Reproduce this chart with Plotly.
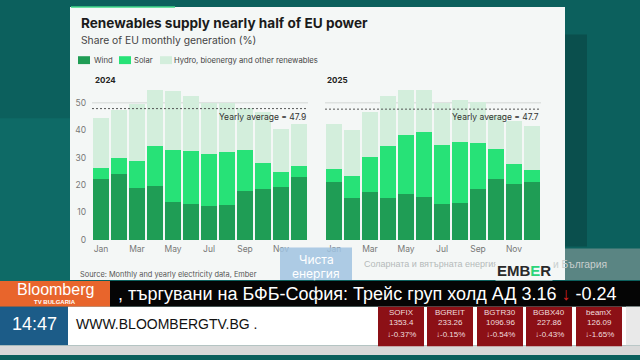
import plotly.graph_objects as go

months = ["Jan", "Feb", "Mar", "Apr", "May", "Jun", "Jul", "Aug", "Sep", "Oct", "Nov", "Dec"]
tick_months = ["Jan", "Mar", "May", "Jul", "Sep", "Nov"]

wind_2024 = [22.4, 24.0, 18.9, 19.8, 14.0, 13.2, 12.2, 12.8, 18.0, 18.5, 19.2, 22.8]
solar_2024 = [4.0, 6.0, 9.9, 14.5, 18.7, 19.2, 19.3, 19.2, 14.7, 9.4, 5.6, 4.3]
other_2024 = [18.2, 17.5, 20.9, 20.5, 21.7, 20.1, 18.5, 17.8, 15.3, 18.9, 15.6, 15.1]

wind_2025 = [21.2, 15.2, 17.3, 15.3, 16.7, 15.7, 13.1, 13.5, 18.6, 22.4, 20.4, 21.1]
solar_2025 = [4.8, 8.1, 13.0, 18.8, 21.5, 23.5, 21.4, 22.1, 16.9, 10.8, 7.2, 4.4]
other_2025 = [16.2, 16.9, 16.5, 18.3, 16.6, 15.6, 15.5, 15.3, 14.9, 12.3, 15.6, 16.1]

avg_2024 = 47.9
avg_2025 = 47.7
grid_value = 50

y_ticks = [0, 10, 20, 30, 40, 50]

tiles = [("SOFIX", "1353.4", "-0.37%"), ("BGREIT", "233.26", "-0.15%"),
         ("BGTR30", "1096.96", "-0.54%"), ("BGBX40", "227.86", "-0.43%"),
         ("beamX", "126.09", "-1.65%")]

W, H = 640, 360
def X(px): return px / W
def Y(py): return 1 - py / H

C_WIND = "#1f9d55"
C_SOLAR = "#27e277"
C_OTHER = "#d3eedc"
FONT = "Inter"
CARD = "#f4f7f6"

fig = go.Figure()
for (w, s, o, xa, ya) in [(wind_2024, solar_2024, other_2024, "x", "y"),
                          (wind_2025, solar_2025, other_2025, "x2", "y2")]:
    for vals, col, name in [(w, C_WIND, "Wind"), (s, C_SOLAR, "Solar"),
                            (o, C_OTHER, "Hydro, bioenergy and other renewables")]:
        fig.add_trace(go.Bar(x=months, y=vals, name=name, marker_color=col,
                             marker_line_width=0, xaxis=xa, yaxis=ya,
                             showlegend=False, hoverinfo="skip"))

shapes = []
ann = []

def rect(x0, y0, x1, y1, color, layer="below"):
    shapes.append(dict(type="rect", xref="paper", yref="paper", x0=X(x0), x1=X(x1),
                       y0=Y(y1), y1=Y(y0), fillcolor=color, line_width=0, layer=layer))

def text(x, y, t, size, color, xanchor="left", family=FONT, bold=False, bg=None):
    if bold:
        t = "<b>" + t + "</b>"
    d = dict(xref="paper", yref="paper", x=X(x), y=Y(y), text=t, showarrow=False,
             xanchor=xanchor, yanchor="middle", font=dict(size=size, color=color, family=family))
    if bg:
        d["bgcolor"] = bg
    ann.append(d)

# background pieces
rect(0, 0, 640, 360, "#0c605d")
rect(0, 120, 70, 285, "#0e6a66")
rect(565, 35, 587, 250, "#0a4f4d")
rect(70, 7, 565, 284, CARD)
shapes.append(dict(type="line", xref="paper", yref="paper", x0=X(71), x1=X(175), y0=Y(7), y1=Y(7),
                   line=dict(color="#3fd98a", width=1.5), layer="below"))
rect(565, 252, 640, 284, "#5a8583")

# chart texts
text(79, 23, "Renewables supply nearly half of EU power", 13.6, "#1b1b1b", bold=True)
text(79, 41, "Share of EU monthly generation (%)", 10.3, "#444444")
for sx, tx, col, lab in [(78, 92, C_WIND, "Wind"), (119, 132, C_SOLAR, "Solar"),
                         (160, 172, C_OTHER, "Hydro, bioenergy and other renewables")]:
    rect(sx, 57, sx + 12, 65, col)
    text(tx, 61, lab, 7.7, "#444444")
text(93, 81, "2024", 8, "#222222", bold=True)
text(325, 81, "2025", 8, "#222222", bold=True)
text(78, 278, "Source: Monthly and yearly electricity data, Ember", 7.4, "#555555")

# 50 gridline and averages
for xa, ya, av in [("x", "y", avg_2024), ("x2", "y2", avg_2025)]:
    shapes.append(dict(type="line", xref=xa, yref=ya, x0=-0.5, x1=11.5, y0=grid_value, y1=grid_value,
                       line=dict(color="#d3d7d5", width=1), layer="below"))
    shapes.append(dict(type="line", xref=xa, yref=ya, x0=-0.5, x1=11.5, y0=av, y1=av,
                       line=dict(color="#555555", width=1, dash="2px,2px"), layer="above"))
    ann.append(dict(xref=xa, yref=ya, x=11.5, y=av, text="Yearly average = %.1f" % av,
                    showarrow=False, xanchor="right", yanchor="top", yshift=-1,
                    font=dict(size=8.5, color="#333333", family=FONT)))

# TV overlays
rect(280, 251, 352, 284, "rgba(160,195,225,0.85)", layer="above")
text(316, 263, "Чиста", 12, "#ffffff", xanchor="center")
text(316, 277, "енергия", 12, "#ffffff", xanchor="center")
text(362, 268, "Соларната и вятърната енергия", 9, "#b4baba", family="Liberation Sans")
text(551, 268, "и България", 10.3, "#c9cfce", family="Liberation Sans")
text(495, 274, "EMB<span style='color:#2bd47a'>E</span>R", 15, "#2a2a2a", family="Liberation Sans", bold=True, bg=CARD)

rect(0, 285, 110, 311, "#e8652c", layer="above")
rect(110, 285, 640, 311, "#050505", layer="above")
rect(0, 311, 68, 350, "#1c5c88", layer="above")
rect(68, 311, 640, 350, "#ffffff", layer="above")
rect(626, 311, 640, 350, "#e9e9e9", layer="above")
rect(0, 350, 640, 360, "#d9d9d9", layer="above")
text(55, 294, "Bloomberg", 16, "#ffffff", xanchor="center", family="Liberation Sans")
text(55, 306.5, "TV BULGARIA", 6, "#ffffff", xanchor="center", family="Liberation Sans", bold=True)
text(116, 298, ", търгувани на БФБ-София: Трейс груп холд АД 3.16 <span style='color:#d62020'><b>↓</b></span> -0.24",
     18, "#ffffff", family="Liberation Sans")
text(34, 329, "14:47", 18, "#ffffff", xanchor="center", family="Liberation Sans")
text(74, 329, "WWW.BLOOMBERGTV.BG .", 14, "#111111", family="Liberation Sans")
tile_x = [378, 427, 477, 526, 576]
for (nm, val, pct), tx in zip(tiles, tile_x):
    rect(tx, 311, tx + 46, 351, "#8c1016", layer="above")
    cx = tx + 23
    text(cx, 317, nm, 8, "#f0dede", xanchor="center", family="Liberation Sans")
    text(cx, 327, val, 8, "#f0dede", xanchor="center", family="Liberation Sans")
    text(cx, 339, "<b>↓</b>" + pct, 8, "#f0dede", xanchor="center", family="Liberation Sans")

axis_common = dict(type="category", showline=False, ticks="", tickvals=tick_months,
                   tickfont=dict(size=8.5, color="#777777", family=FONT), ticklabelstandoff=3,
                   range=[-0.5, 11.5], fixedrange=True, showgrid=False)
yaxis_common = dict(range=[0, 55], tickvals=y_ticks, showgrid=False,
                    zeroline=False, showline=False, ticks="",
                    tickfont=dict(size=8.5, color="#777777", family=FONT), fixedrange=True,
                    domain=[Y(243.3), Y(243.3 - 55 * 2.78)])

fig.update_layout(
    width=W, height=H, margin=dict(l=0, r=0, t=0, b=0),
    paper_bgcolor="#0c605d", plot_bgcolor="rgba(0,0,0,0)",
    barmode="stack", bargap=0.08, showlegend=False,
    xaxis=dict(domain=[X(92), X(308)], anchor="y", **axis_common),
    xaxis2=dict(domain=[X(325), X(541)], anchor="y2", **axis_common),
    yaxis=dict(anchor="x", showticklabels=True, ticklabelstandoff=5, **yaxis_common),
    yaxis2=dict(anchor="x2", showticklabels=False, **yaxis_common),
    shapes=shapes, annotations=ann,
)

fig.write_html("out.html", config={"displayModeBar": False},
               post_script="document.body.style.margin='0';document.body.style.overflow='hidden';")
